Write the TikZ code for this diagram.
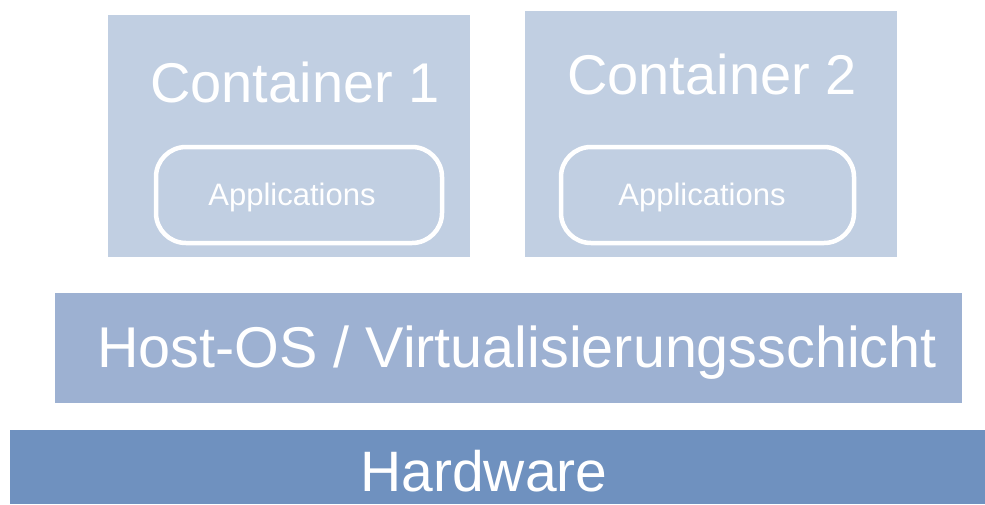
\documentclass[tikz,border=0pt]{standalone}
\usepackage{fontspec}
\setmainfont{Liberation Sans}
\definecolor{contfill}{HTML}{C1CFE2}
\definecolor{hostfill}{HTML}{9DB1D2}
\definecolor{hwfill}{HTML}{6F91BF}
\begin{document}
\begin{tikzpicture}[x=1pt,y=-1pt,
  layer/.style={rectangle,inner sep=0pt,draw=none},
  appbox/.style={rectangle,rounded corners=30pt,draw=white,line width=4.5pt,inner sep=0pt},
  bigtext/.style={text=white,anchor=base,inner sep=0pt,font=\fontsize{56}{60}\selectfont},
  smalltext/.style={text=white,anchor=base,inner sep=0pt,font=\fontsize{31}{34}\selectfont}]
\useasboundingbox (0,0) rectangle (985,504);
% layers
\node[layer,fill=contfill,minimum width=362pt,minimum height=242pt] (c1) at (289,136) {};
\node[layer,fill=contfill,minimum width=372pt,minimum height=246pt] (c2) at (711,134) {};
\node[layer,fill=hostfill,minimum width=907pt,minimum height=110pt] (host) at (508.5,348) {};
\node[layer,fill=hwfill,minimum width=980pt,minimum height=74pt] (hw) at (500,467) {};
% application frames
\node[appbox,minimum width=286pt,minimum height=96pt] (a1) at (299,195) {};
\node[appbox,minimum width=293pt,minimum height=96pt] (a2) at (707.5,195) {};
% labels
\node[bigtext] (c1t) at (295,102) {Container 1};
\node[bigtext] (c2t) at (712,94) {Container 2};
\node[smalltext] (a1t) at (292,205) {Applications};
\node[smalltext] (a2t) at (702,205) {Applications};
\node[bigtext,font=\fontsize{57.5}{60}\selectfont] (hostt) at (517,367) {Host-OS / Virtualisierungsschicht};
\node[bigtext,font=\fontsize{57}{60}\selectfont] (hwt) at (484,491) {Hardware};
\end{tikzpicture}
\end{document}
